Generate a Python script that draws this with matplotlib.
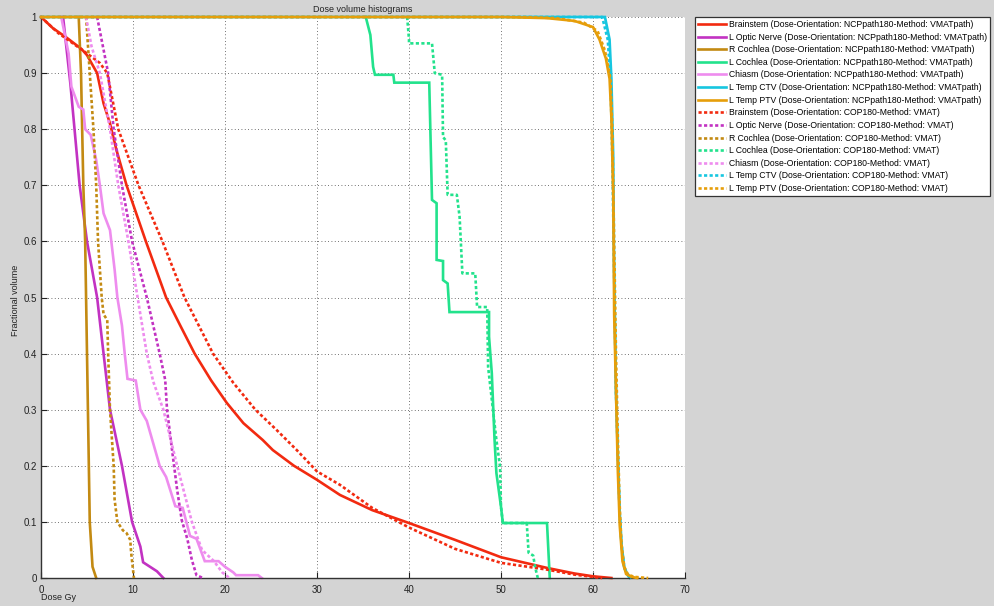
import matplotlib
matplotlib.use("Agg")
import matplotlib.pyplot as plt

plt.rcParams['font.family'] = ['Liberation Sans', 'DejaVu Sans']

# ---------------- data ----------------
structures = ["Brainstem", "L Optic Nerve", "R Cochlea", "L Cochlea", "Chiasm", "L Temp CTV", "L Temp PTV"]
colors = ["#f22a10", "#c232c2", "#c38a12", "#22e28c", "#ee8cee", "#16c6e0", "#e69e0a"]
plan_ncp = "(Dose-Orientation: NCPpath180-Method: VMATpath)"
plan_cop = "(Dose-Orientation: COP180-Method: VMAT)"

# NCPpath180 (solid)
brainstem_ncp_dose = [0, 1.3, 2.8, 4.4, 5.0, 6.1, 6.8, 7.5, 8.2, 9.3, 11.4, 13.6, 15.2, 16.7, 18.5, 20.2, 22.0, 24.1, 25.2, 27.5, 30, 32.5, 36, 40, 45, 50, 55, 58, 60, 62]
brainstem_ncp_vol = [1, 0.98, 0.963, 0.943, 0.932, 0.9, 0.846, 0.81, 0.763, 0.7, 0.6, 0.5, 0.448, 0.4, 0.352, 0.312, 0.276, 0.246, 0.228, 0.2, 0.175, 0.148, 0.121, 0.098, 0.068, 0.037, 0.018, 0.008, 0.003, 0]
opticn_ncp_dose = [2.4, 2.8, 3.2, 3.7, 4.2, 5.0, 6.1, 6.8, 7.5, 8.8, 9.9, 10.8, 11.1, 12.6, 13.3]
opticn_ncp_vol = [1, 0.94, 0.88, 0.79, 0.70, 0.6, 0.5, 0.4, 0.3, 0.2, 0.1, 0.056, 0.028, 0.012, 0]
rcoch_ncp_dose = [4.1, 4.35, 4.6, 4.8, 5.0, 5.1, 5.3, 5.6, 6.0]
rcoch_ncp_vol = [1, 0.9, 0.7, 0.6, 0.4, 0.3, 0.1, 0.02, 0]
lcoch_ncp_dose = [35.3, 35.8, 36.1, 36.3, 38.3, 38.4, 42.2, 42.5, 43.0, 43.0, 43.7, 43.7, 44.2, 44.4, 48.7, 48.7, 49.0, 49.3, 49.5, 50.0, 50.2, 55.0, 55.3]
lcoch_ncp_vol = [1.0, 0.968, 0.911, 0.897, 0.897, 0.883, 0.883, 0.674, 0.668, 0.567, 0.565, 0.531, 0.525, 0.474, 0.474, 0.43, 0.365, 0.246, 0.187, 0.127, 0.098, 0.098, 0]
chiasm_ncp_dose = [2.2, 3.0, 3.3, 4.1, 4.6, 4.8, 5.4, 6.0, 6.4, 6.8, 7.5, 8.0, 8.3, 8.8, 9.1, 9.4, 10.3, 10.8, 11.5, 12.9, 13.6, 14.6, 15.4, 16.2, 16.9, 17.8, 19.3, 20.0, 20.9, 21.2, 23.6, 24.0]
chiasm_ncp_vol = [1.0, 0.935, 0.876, 0.84, 0.835, 0.80, 0.79, 0.745, 0.70, 0.65, 0.62, 0.55, 0.5, 0.45, 0.4, 0.355, 0.352, 0.3, 0.28, 0.2, 0.18, 0.128, 0.125, 0.075, 0.07, 0.03, 0.03, 0.02, 0.01, 0.005, 0.005, 0]
ctv_ncp_dose = [0, 61.3, 61.8, 62.0, 62.2, 62.3, 62.5, 62.7, 62.9, 63.1, 63.4, 63.8, 64.0]
ctv_ncp_vol = [1, 1, 0.96, 0.89, 0.75, 0.54, 0.33, 0.22, 0.116, 0.06, 0.018, 0.004, 0]
ptv_ncp_dose = [0, 50, 55, 58, 60, 60.7, 61.4, 61.8, 62.0, 62.2, 62.3, 62.5, 62.7, 62.9, 63.2, 63.6, 64.2, 64.8]
ptv_ncp_vol = [1, 1, 0.998, 0.993, 0.982, 0.96, 0.926, 0.89, 0.82, 0.68, 0.47, 0.33, 0.19, 0.095, 0.03, 0.007, 0.002, 0]

# COP180 (dashed)
brainstem_cop_dose = [0, 1.9, 3.3, 5.0, 6.4, 7.2, 8.4, 10.6, 13.2, 15.6, 18.7, 20.9, 23.3, 25.6, 27.8, 30, 32.5, 36, 40, 45, 50, 55, 58, 61]
brainstem_cop_vol = [1, 0.971, 0.955, 0.935, 0.918, 0.9, 0.8, 0.7, 0.6, 0.5, 0.4, 0.348, 0.3, 0.264, 0.228, 0.19, 0.166, 0.125, 0.09, 0.052, 0.027, 0.015, 0.006, 0]
opticn_cop_dose = [6.1, 7.3, 7.9, 8.8, 9.9, 11.5, 12.9, 13.5, 13.7, 14.2, 14.8, 15.3, 15.9, 16.4, 16.9, 17.6]
opticn_cop_vol = [1, 0.9, 0.8, 0.7, 0.6, 0.5, 0.4, 0.353, 0.3, 0.234, 0.157, 0.103, 0.07, 0.032, 0.005, 0]
rcoch_cop_dose = [4.9, 5.3, 5.7, 6.0, 6.2, 6.6, 6.8, 7.2, 7.3, 7.5, 7.9, 8.0, 8.3, 8.9, 9.3, 9.7, 9.8, 10.1]
rcoch_cop_vol = [1, 0.9, 0.8, 0.7, 0.6, 0.5, 0.47, 0.46, 0.4, 0.3, 0.2, 0.14, 0.1, 0.085, 0.08, 0.068, 0.045, 0]
lcoch_cop_dose = [39.8, 40.0, 40.0, 42.5, 42.8, 43.6, 43.7, 44.0, 44.2, 45.2, 45.5, 45.8, 47.2, 47.4, 48.5, 48.6, 49.5, 49.9, 50.0, 50.2, 52.8, 53.0, 53.5, 53.7, 54.0]
lcoch_cop_vol = [1.0, 0.96, 0.953, 0.953, 0.9, 0.897, 0.786, 0.78, 0.683, 0.683, 0.644, 0.543, 0.543, 0.483, 0.483, 0.376, 0.246, 0.198, 0.127, 0.098, 0.098, 0.045, 0.04, 0.02, 0]
chiasm_cop_dose = [4.9, 5.5, 6.4, 7.5, 8.4, 9.5, 10.5, 11.5, 12.2, 13.3, 14.8, 16.4, 17.5, 18.8, 19.7, 20.5]
chiasm_cop_vol = [1, 0.947, 0.9, 0.8, 0.7, 0.6, 0.5, 0.4, 0.35, 0.3, 0.2, 0.1, 0.05, 0.03, 0.01, 0]
ctv_cop_dose = [0, 61.0, 61.6, 61.9, 62.1, 62.3, 62.5, 62.7, 62.9, 63.1, 63.4, 63.9, 64.2]
ctv_cop_vol = [1, 1, 0.96, 0.89, 0.75, 0.54, 0.33, 0.22, 0.116, 0.06, 0.018, 0.004, 0]
ptv_cop_dose = [0, 52, 56, 59, 60.5, 61.3, 61.9, 62.1, 62.3, 62.5, 62.7, 62.9, 63.1, 63.4, 63.8, 64.5, 66.0]
ptv_cop_vol = [1, 1, 0.998, 0.99, 0.975, 0.94, 0.89, 0.8, 0.6, 0.4, 0.25, 0.13, 0.06, 0.02, 0.006, 0.002, 0]

ncp_series = [(brainstem_ncp_dose, brainstem_ncp_vol), (opticn_ncp_dose, opticn_ncp_vol),
              (rcoch_ncp_dose, rcoch_ncp_vol), (lcoch_ncp_dose, lcoch_ncp_vol),
              (chiasm_ncp_dose, chiasm_ncp_vol), (ctv_ncp_dose, ctv_ncp_vol),
              (ptv_ncp_dose, ptv_ncp_vol)]
cop_series = [(brainstem_cop_dose, brainstem_cop_vol), (opticn_cop_dose, opticn_cop_vol),
              (rcoch_cop_dose, rcoch_cop_vol), (lcoch_cop_dose, lcoch_cop_vol),
              (chiasm_cop_dose, chiasm_cop_vol), (ctv_cop_dose, ctv_cop_vol),
              (ptv_cop_dose, ptv_cop_vol)]

x_ticks = [0, 10, 20, 30, 40, 50, 60, 70]
y_ticks = [0, 0.1, 0.2, 0.3, 0.4, 0.5, 0.6, 0.7, 0.8, 0.9, 1]
y_tick_labels = ["0", "0.1", "0.2", "0.3", "0.4", "0.5", "0.6", "0.7", "0.8", "0.9", "1"]

# ---------------- figure ----------------
W, H = 995, 606
fig = plt.figure(figsize=(W / 100, H / 100), dpi=100, facecolor="#d4d4d4")
ax = fig.add_axes([41 / W, 1 - 578 / H, (685 - 41) / W, (578 - 17) / H])
ax.set_facecolor("white")

dash = (0, (1.2, 0.9))
handles, labels = [], []
for i, ((d, v), c, s) in enumerate(zip(ncp_series, colors, structures)):
    z = 4 if s == "L Temp PTV" else 2
    ln, = ax.plot(d, v, color=c, lw=1.9, solid_joinstyle="miter", clip_on=False, zorder=z)
    handles.append(ln)
    labels.append(f"{s} {plan_ncp}")
for (d, v), c, s in zip(cop_series, colors, structures):
    ln, = ax.plot(d, v, color=c, lw=1.9, linestyle=dash, clip_on=False, zorder=3)
    handles.append(ln)
    labels.append(f"{s} {plan_cop}")

ax.set_xlim(0, 70)
ax.set_ylim(0, 1)
ax.set_xticks(x_ticks)
ax.set_yticks(y_ticks)
ax.set_yticklabels(y_tick_labels)
ax.tick_params(direction="in", length=4, width=0.8, labelsize=7, pad=3, colors="#222222")
ax.tick_params(axis="x", pad=5)
for sp in ["top", "right"]:
    ax.spines[sp].set_visible(False)
for sp in ["left", "bottom"]:
    ax.spines[sp].set_color("#333333")
    ax.spines[sp].set_linewidth(1.0)
ax.grid(True, linestyle=(0, (1, 3)), color="#444444", lw=0.6)
ax.set_axisbelow(True)

fig.text(363 / W, 1 - 9 / H, "Dose volume histograms", ha="center", va="center", fontsize=6.5, color="#222222")
fig.text(41 / W, 1 - 598 / H, "Dose Gy", ha="left", va="center", fontsize=6.5, color="#222222")
fig.text(16 / W, 1 - 300 / H, "Fractional volume", ha="center", va="center", rotation=90, fontsize=6.5, color="#222222")

leg = fig.legend(handles, labels, loc="upper left", bbox_to_anchor=(695 / W, 1 - 17 / H),
                 fontsize=6.2, frameon=True, fancybox=False, edgecolor="#333333",
                 handlelength=3.3, handletextpad=0.3, labelspacing=0.42, borderpad=0.35,
                 borderaxespad=0.0, framealpha=1.0)
leg.get_frame().set_linewidth(0.9)

fig.savefig("out.png", dpi=100, facecolor=fig.get_facecolor())
